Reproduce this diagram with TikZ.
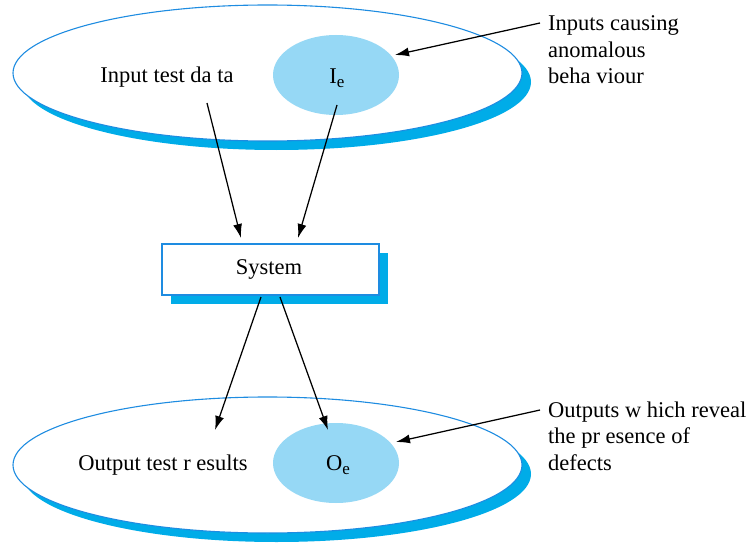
\documentclass[tikz,border=0pt]{standalone}
\usepackage{fontspec}
\setmainfont{Liberation Serif}
\usetikzlibrary{arrows.meta,shapes.geometric}
\definecolor{ringblue}{RGB}{30,140,225}
\definecolor{shadowcyan}{RGB}{0,172,232}
\definecolor{blobblue}{RGB}{150,216,245}
\begin{document}
\begin{tikzpicture}[x=1pt,y=-1pt,
  font=\fontsize{22.5}{26.5}\selectfont,
  ringshadow/.style={ellipse, fill=shadowcyan, minimum width=509pt, minimum height=136pt, inner sep=0pt},
  ring/.style={ellipse, draw=ringblue, fill=white, line width=1.1pt, minimum width=509pt, minimum height=136pt, inner sep=0pt},
  blob/.style={ellipse, fill=blobblue, minimum width=126pt, minimum height=80pt, inner sep=0pt},
  boxshadow/.style={rectangle, fill=shadowcyan, minimum width=217pt, minimum height=51pt, inner sep=0pt},
  sysbox/.style={rectangle, draw=ringblue, fill=white, line width=1.1pt, minimum width=217pt, minimum height=51pt, inner sep=0pt},
  lbl/.style={inner sep=0pt},
  note/.style={inner sep=0pt, align=left, anchor=west},
  flow/.style={-{Latex[length=14pt,width=9pt]}, line width=1.25pt}
]
\useasboundingbox (0,0) rectangle (756,543);

% input domain
\node[ringshadow] (inshadow) at (276.5,82) {};
\node[ring] (inset) at (267.5,73) {};
\node[blob] (ie) at (336,75) {};
\node[lbl] (indata) at (167,77) {Input test da ta};
\node[lbl] (ielabel) at (337,78) {I\raisebox{-0.4ex}{\fontsize{17}{17}\selectfont e}};

% system under test
\node[boxshadow] (sysshadow) at (279,278.5) {};
\node[sysbox] (system) at (270.5,269.5) {};
\node[lbl] (syslabel) at (269,269) {System};

% output domain
\node[ringshadow] (outshadow) at (276.5,474) {};
\node[ring] (outset) at (267.5,465) {};
\node[blob] (oe) at (336,463) {};
\node[lbl] (outdata) at (163,465) {Output test r esults};
\node[lbl] (oelabel) at (338,465) {O\raisebox{-0.4ex}{\fontsize{17}{17}\selectfont e}};

% annotations
\node[note] (innote) at (548,50) {Inputs causing\\anomalous\\beha viour};
\node[note] (outnote) at (548,436) {Outputs w hich reveal\\the pr esence of\\defects};

% connector ends
\coordinate (a1s) at (207,103);
\coordinate (a1e) at (241,238);
\coordinate (a2s) at (337,105);
\coordinate (a2e) at (298,238);
\coordinate (a3s) at (261,297);
\coordinate (a3e) at (215,430);
\coordinate (a4s) at (280,297);
\coordinate (a4e) at (328,430);
\coordinate (a5s) at (540,23);
\coordinate (a5e) at (395,55);
\coordinate (a6s) at (540,410);
\coordinate (a6e) at (396,442);

\draw[flow] (a1s) -- (a1e);
\draw[flow] (a2s) -- (a2e);
\draw[flow] (a3s) -- (a3e);
\draw[flow] (a4s) -- (a4e);
\draw[flow] (a5s) -- (a5e);
\draw[flow] (a6s) -- (a6e);
\end{tikzpicture}
\end{document}
